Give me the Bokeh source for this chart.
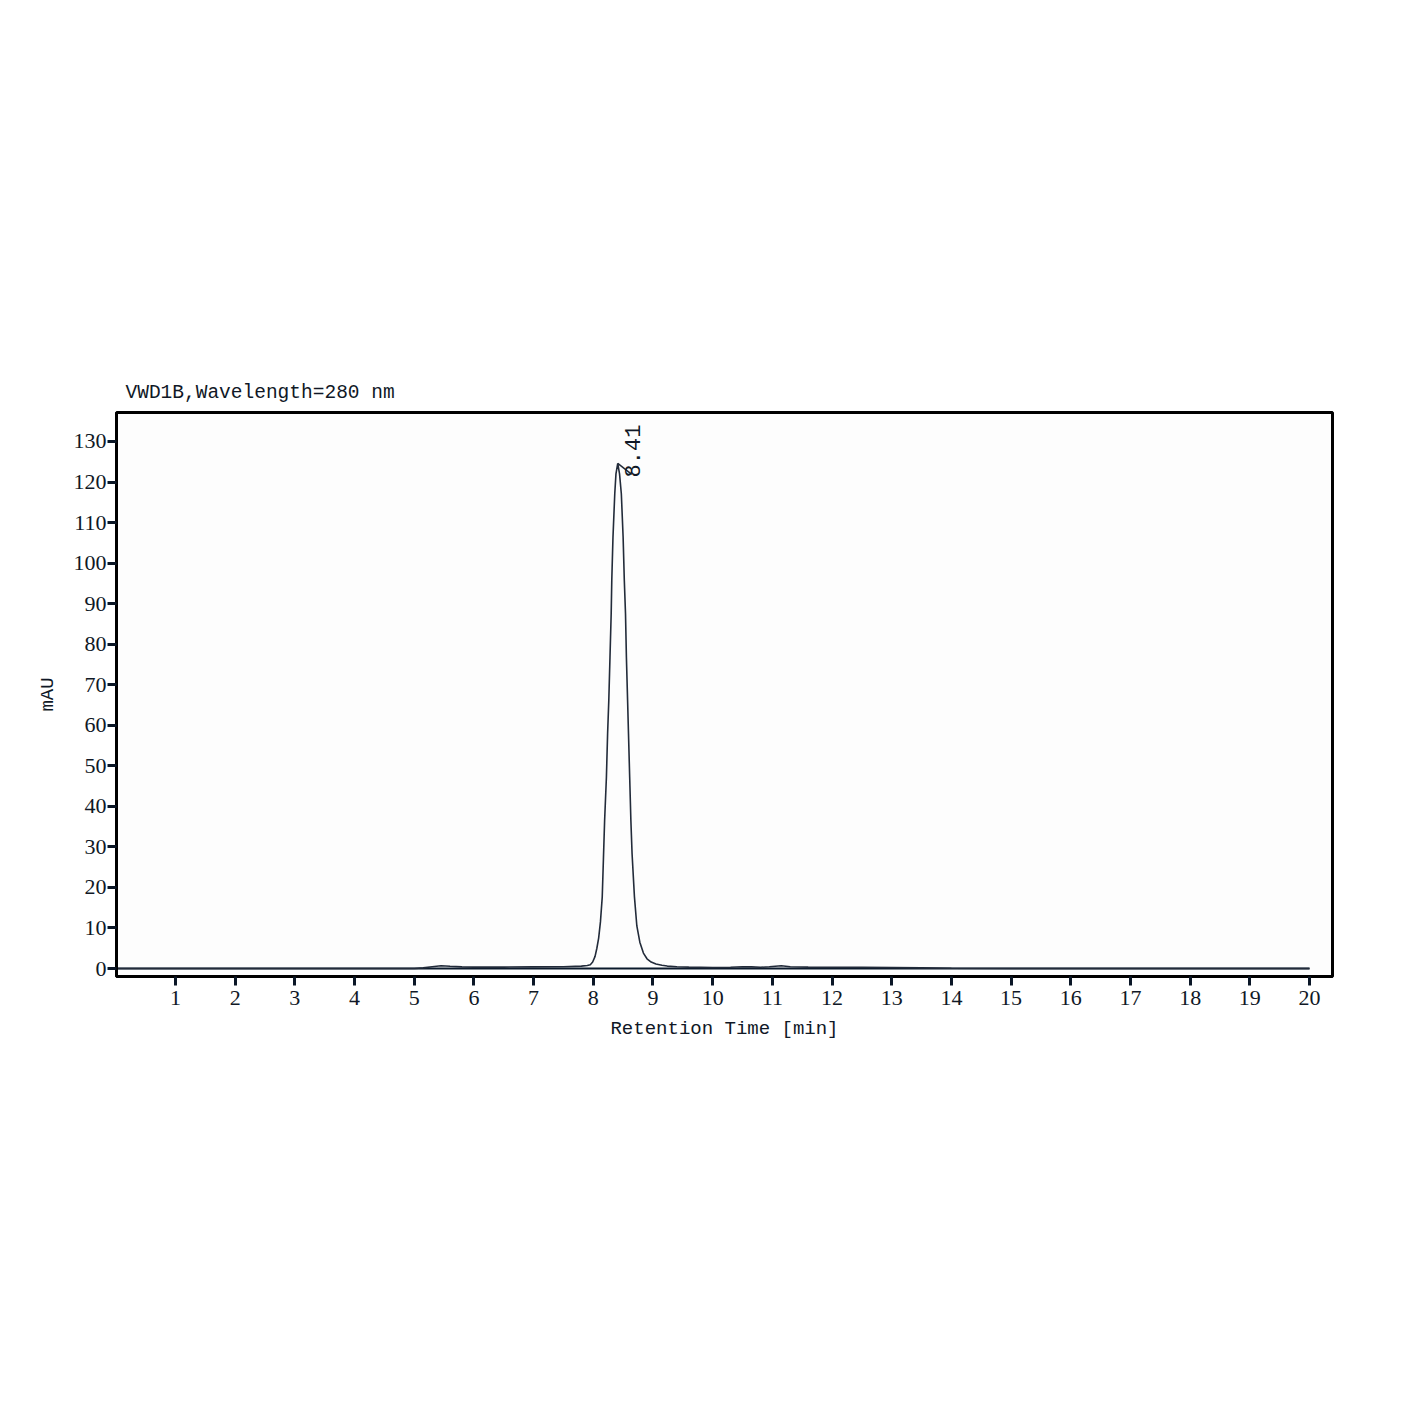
import math
from bokeh.plotting import figure
from bokeh.models import Range1d, FixedTicker
from bokeh.core.properties import value
from bokeh.embed import file_html
from bokeh.resources import INLINE

# ---- data ----
time_min = [0.0, 1.0, 2.0, 3.0, 4.0, 5.0, 5.15, 5.3, 5.45, 5.6, 5.8, 6.0, 6.5, 7.0, 7.5,
            7.8, 7.9, 7.95, 7.99, 8.03, 8.06, 8.09, 8.12, 8.15, 8.17, 8.19, 8.22, 8.24,
            8.26, 8.28, 8.30, 8.31, 8.33, 8.36, 8.38, 8.41, 8.44, 8.47, 8.50, 8.52, 8.54,
            8.555, 8.575, 8.59, 8.61, 8.63, 8.65, 8.69, 8.73, 8.78, 8.84, 8.90, 8.97, 9.05,
            9.15, 9.24, 9.4, 9.6, 10.0, 10.3, 10.5, 10.65, 10.8, 10.95, 11.15, 11.3, 11.6,
            12.0, 12.5, 13.0, 13.5, 14.0, 15.0, 20.0]
signal_mau = [0.0, 0.0, 0.0, 0.0, 0.0, 0.0, 0.15, 0.45, 0.7, 0.55, 0.4, 0.35, 0.35, 0.4, 0.45,
              0.6, 0.75, 0.95, 1.6, 3.0, 5.0, 7.5, 11.5, 17.6, 27.0, 36.5, 47.2, 57.9,
              66.1, 76.8, 87.5, 95.7, 106.4, 117.1, 122.0, 124.6, 122.0, 117.1, 106.4, 95.7, 87.5,
              76.8, 66.1, 57.9, 47.2, 36.5, 28.3, 17.6, 10.5, 6.5, 3.8, 2.4, 1.6, 1.1,
              0.8, 0.6, 0.45, 0.35, 0.25, 0.3, 0.45, 0.4, 0.3, 0.45, 0.7, 0.45, 0.35,
              0.3, 0.3, 0.25, 0.15, 0.05, 0.0, 0.0]
baseline_time = [0.0, 20.0]
baseline_mau = [0.0, 0.0]
peak_time = [8.41]
peak_height = [124.6]
peak_label = ["8.41"]
x_ticks = list(range(1, 21))
y_ticks = list(range(0, 140, 10))

TXT = "#101826"
X0, X1 = 0.012, 20.385
Y0, Y1 = -1.97, 137.15
FW, FH = 1216, 564

p = figure(frame_width=FW, frame_height=FH,
           x_range=Range1d(X0, X1), y_range=Range1d(Y0, Y1),
           output_backend="svg", toolbar_location=None,
           min_border_left=116, min_border_top=412, min_border_right=57, min_border_bottom=405,
           background_fill_color="#fdfdfd", border_fill_color="#ffffff")

p.title.text = "VWD1B,Wavelength=280 nm"
p.title.align = "left"
p.title.offset = 9
p.title.standoff = 17
p.title.text_font = "Liberation Mono"
p.title.text_font_size = "19.5px"
p.title.text_font_style = "normal"
p.title.text_color = TXT

p.outline_line_color = "black"
p.outline_line_width = 3
p.xgrid.visible = False
p.ygrid.visible = False

for ax in (p.xaxis[0], p.yaxis[0]):
    ax.axis_line_color = "black"
    ax.axis_line_width = 3
    ax.major_tick_in = 0
    ax.major_tick_out = 9
    ax.major_tick_line_width = 3
    ax.major_tick_line_color = "#0a1626"
    ax.minor_tick_line_color = None
    ax.major_label_text_font = "Liberation Serif"
    ax.major_label_text_font_size = "22px"
    ax.major_label_text_color = TXT
    ax.axis_label_text_font = "Liberation Mono"
    ax.axis_label_text_font_size = "19px"
    ax.axis_label_text_font_style = "normal"
    ax.axis_label_text_color = TXT

p.xaxis[0].ticker = FixedTicker(ticks=x_ticks)
p.yaxis[0].ticker = FixedTicker(ticks=y_ticks)
p.xaxis[0].axis_label = "Retention Time [min]"
p.yaxis[0].axis_label = "mAU"
p.xaxis[0].major_label_standoff = 5
p.yaxis[0].major_label_standoff = 1
p.xaxis[0].axis_label_standoff = 10
p.yaxis[0].axis_label_standoff = 12

p.line(baseline_time, baseline_mau, line_color="#0b1a2c", line_width=2)
p.line(time_min, signal_mau, line_color="#222b3a", line_width=1.6)

# peak annotation: leader tick and rotated retention-time label
px_per_x = FW / (X1 - X0)
px_per_y = FH / (Y1 - Y0)
lead_x1 = [t + 14 / px_per_x for t in peak_time]
lead_y1 = [h - 11 / px_per_y for h in peak_height]
p.segment(x0=peak_time, y0=peak_height, x1=lead_x1, y1=lead_y1,
          line_color="#222b3a", line_width=1.5)
p.text(x=peak_time, y=peak_height, text=peak_label, angle=math.pi / 2,
       x_offset=15, y_offset=14, text_align="left", text_baseline="middle",
       text_font=value("Liberation Mono"), text_font_size="22px", text_color=TXT)

open("out.html", "w").write(file_html(p, INLINE))
